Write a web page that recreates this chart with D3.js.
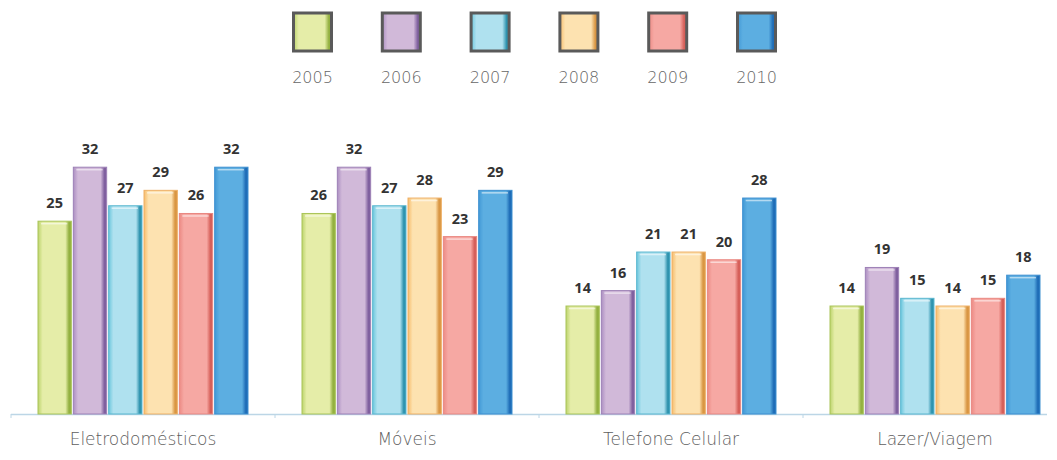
<!DOCTYPE html>
<html><head><meta charset="utf-8">
<script src="https://cdn.jsdelivr.net/npm/d3@7"></script>
<style>
html,body{margin:0;padding:0;background:#fff;}
svg{display:block;}
</style></head>
<body>
<svg id="chart" width="1057" height="460"></svg>
<script>
const categories = ["Eletrodomésticos", "Móveis", "Telefone Celular", "Lazer/Viagem"];
const years = ["2005", "2006", "2007", "2008", "2009", "2010"];
const v2005 = [25, 26, 14, 14];
const v2006 = [32, 32, 16, 19];
const v2007 = [27, 27, 21, 15];
const v2008 = [29, 28, 21, 14];
const v2009 = [26, 23, 20, 15];
const v2010 = [32, 29, 28, 18];
const seriesValues = [v2005, v2006, v2007, v2008, v2009, v2010];

// colours: [left edge, body, right edge, border]
const palette = [
  ["#bcd46c", "#e5eda8", "#93b040", "#a9c458"],
  ["#ac8fc2", "#d1b9d9", "#80609f", "#9d80b6"],
  ["#6cc7dd", "#afe1ef", "#2f93ae", "#58b6cf"],
  ["#f7bd6c", "#fde2b0", "#d99643", "#eeb066"],
  ["#ec8a84", "#f6a8a3", "#d6605a", "#e98780"],
  ["#4299d6", "#5caee1", "#1f6db7", "#3d8fd0"]
];

const svg = d3.select("#chart");
const defs = svg.append("defs");
palette.forEach((c, i) => {
  const g = defs.append("linearGradient").attr("id", "grad" + i)
    .attr("x1", "0%").attr("x2", "100%").attr("y1", "0%").attr("y2", "0%");
  g.append("stop").attr("offset", "0%").attr("stop-color", c[0]);
  g.append("stop").attr("offset", "14%").attr("stop-color", c[1]);
  g.append("stop").attr("offset", "82%").attr("stop-color", c[1]);
  g.append("stop").attr("offset", "93%").attr("stop-color", c[2]);
  g.append("stop").attr("offset", "100%").attr("stop-color", c[2]);
});

const baseY = 414;
const x0 = d3.scaleBand().domain(categories).range([11, 1067]).paddingInner(54 / 264).paddingOuter(27 / 264);
const x1 = d3.scaleBand().domain(years).range([0, x0.bandwidth()]).paddingInner(0.057).paddingOuter(0);
const y = d3.scaleLinear().domain([0, 40]).range([baseY, baseY - 308.5]);

// legend
const legX = d3.scalePoint().domain(years).range([312.5, 756.5]);
const leg = svg.append("g").selectAll("g").data(years).join("g")
  .attr("transform", d => `translate(${legX(d)},0)`);
leg.append("rect").attr("x", -19).attr("y", 13).attr("width", 38).attr("height", 38)
  .attr("fill", (d, i) => `url(#grad${i})`).attr("stroke", "#5a5a5a").attr("stroke-width", 3);
leg.append("text").attr("x", 0).attr("y", 83).attr("text-anchor", "middle")
  .attr("font-family", "DejaVu Sans").attr("font-weight", 200).attr("font-size", 16)
  .attr("fill", "#666666").text(d => d);

// axis line
svg.append("line").attr("x1", 11).attr("x2", 1047).attr("y1", baseY + 0.5).attr("y2", baseY + 0.5)
  .attr("stroke", "#bcd6e6").attr("stroke-width", 1.5);
const tickPos = categories.slice(1).map(c => x0(c) - x0.step() * x0.paddingInner() / 2);
svg.append("g").selectAll("line").data([11].concat(tickPos)).join("line")
  .attr("x1", d => d).attr("x2", d => d).attr("y1", baseY).attr("y2", baseY + 4)
  .attr("stroke", "#bcd6e6").attr("stroke-width", 1);

// bars
const groups = svg.append("g").selectAll("g").data(categories).join("g")
  .attr("transform", d => `translate(${x0(d)},0)`);
const barData = (c, ci) => years.map((yr, i) => ({ yr, i, v: seriesValues[i][ci] }));
const bars = groups.selectAll("g.bar").data((c, ci) => barData(c, ci)).join("g").attr("class", "bar");
bars.append("rect")
  .attr("x", d => x1(d.yr)).attr("y", d => y(d.v))
  .attr("width", x1.bandwidth()).attr("height", d => baseY - y(d.v))
  .attr("fill", d => `url(#grad${d.i})`)
  .attr("stroke", d => palette[d.i][3]).attr("stroke-width", 1);
bars.append("line")
  .attr("x1", d => x1(d.yr) + 3).attr("x2", d => x1(d.yr) + x1.bandwidth() - 4)
  .attr("y1", d => y(d.v) + 2.5).attr("y2", d => y(d.v) + 2.5)
  .attr("stroke", "#ffffff").attr("stroke-opacity", 0.55).attr("stroke-width", 1.5);
bars.append("text")
  .attr("x", d => x1(d.yr) + x1.bandwidth() / 2).attr("y", d => y(d.v) - 13)
  .attr("text-anchor", "middle").attr("font-family", "Open Sans").attr("font-weight", 700)
  .attr("font-size", 14.5).attr("fill", "#333333").text(d => d.v);

// category labels
svg.append("g").selectAll("text").data(categories).join("text")
  .attr("x", d => x0(d) + x0.bandwidth() / 2).attr("y", 445).attr("text-anchor", "middle")
  .attr("font-family", "DejaVu Sans").attr("font-weight", 200).attr("font-size", 17)
  .attr("fill", "#5e5e5e").text(d => d);
</script>
</body></html>
